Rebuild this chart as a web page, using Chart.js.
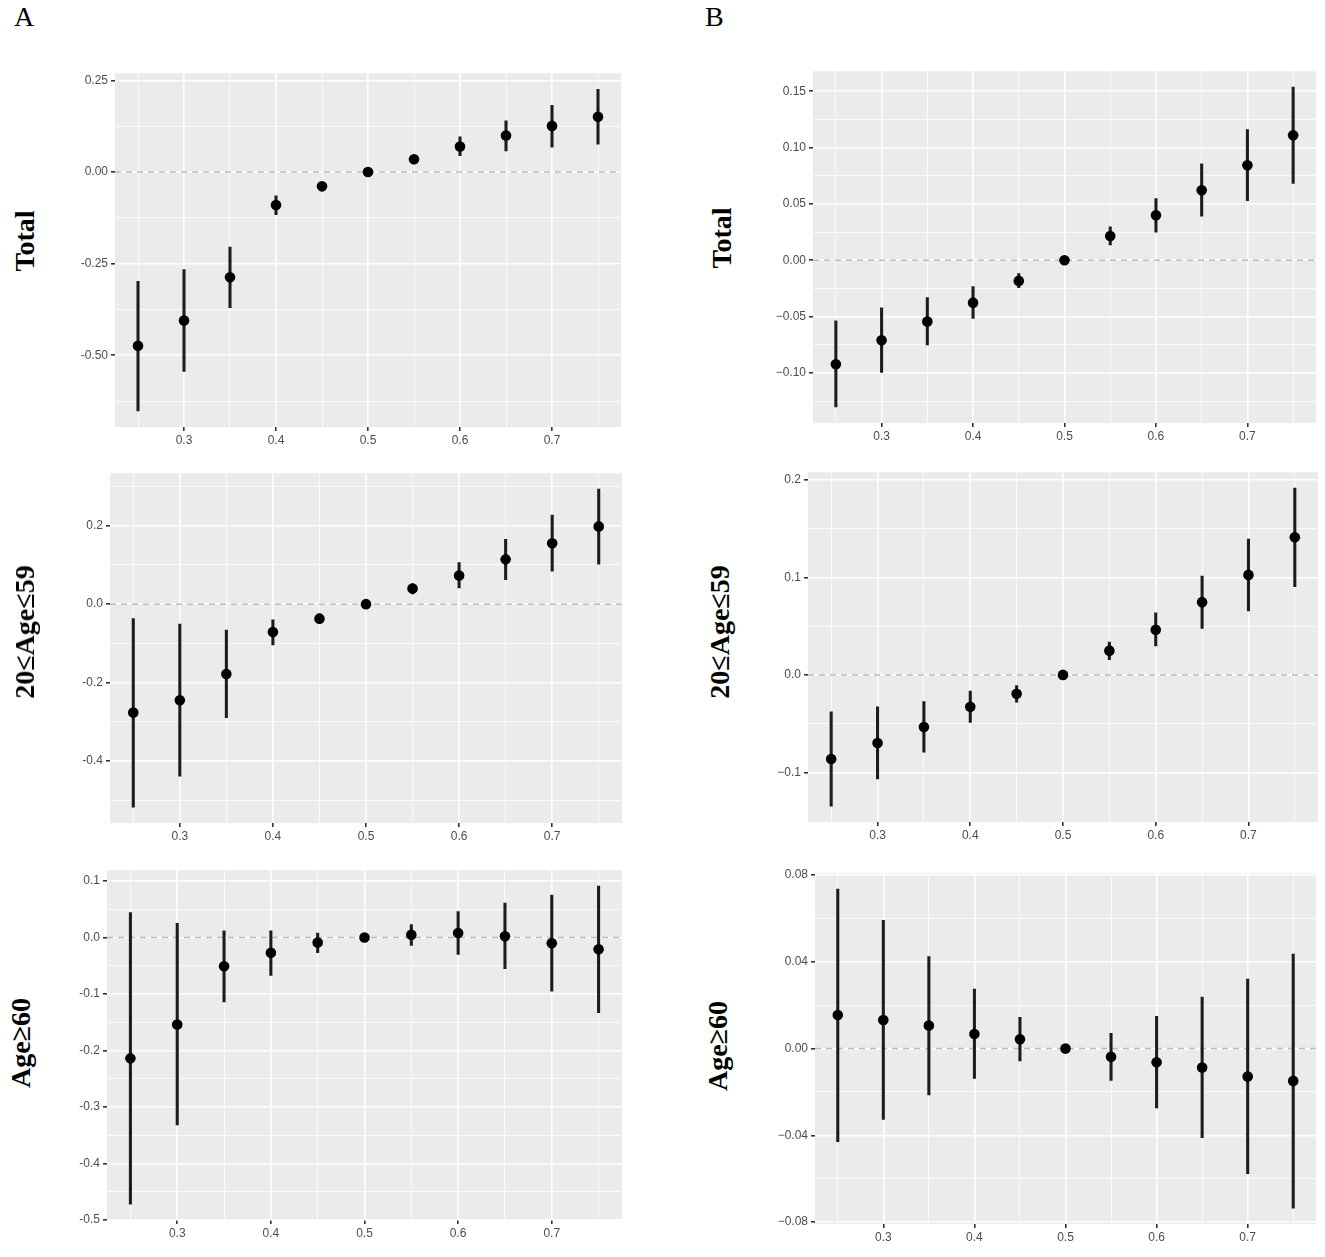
<!DOCTYPE html>
<html>
<head>
<meta charset="utf-8">
<script src="https://cdn.jsdelivr.net/npm/chart.js@4.4.1/dist/chart.umd.min.js"></script>
<style>
  html, body { margin: 0; padding: 0; background: #fff; }
  #page { position: relative; width: 1325px; height: 1257px; overflow: hidden; }
  #page canvas { position: absolute; }
  .tag { position: absolute; font: 28px "Liberation Serif", serif; line-height: 1; color: #000; }
  .ytitle { position: absolute; font: bold 28px "Liberation Serif", serif; color: #000;
            white-space: nowrap; transform: translate(-50%, -50%) rotate(-90deg); }
</style>
</head>
<body>
<div id="page"></div>
<script>
// x positions (quantile) shared by every panel
const xValues = [0.25, 0.30, 0.35, 0.40, 0.45, 0.50, 0.55, 0.60, 0.65, 0.70, 0.75];
const xMajor = [0.3, 0.4, 0.5, 0.6, 0.7];
const xMinor = [0.25, 0.35, 0.45, 0.55, 0.65, 0.75];
const xLabels = ['0.3', '0.4', '0.5', '0.6', '0.7'];
const xLimits = [0.225, 0.775];

// A — Total
const aTotalEst = [-0.474, -0.405, -0.287, -0.090, -0.039, 0, 0.035, 0.070, 0.100, 0.126, 0.151];
const aTotalLo  = [-0.652, -0.544, -0.370, -0.116, -0.045, 0, 0.030, 0.045, 0.058, 0.068, 0.076];
const aTotalHi  = [-0.298, -0.266, -0.205, -0.065, -0.033, 0, 0.040, 0.096, 0.140, 0.182, 0.226];
const aTotalYMajor = [-0.5, -0.25, 0, 0.25];
const aTotalYMinor = [-0.625, -0.375, -0.125, 0.125];
const aTotalYLabels = ['-0.50', '-0.25', '0.00', '0.25'];

// A — 20≤Age≤59
const aMidEst = [-0.276, -0.245, -0.178, -0.071, -0.037, 0, 0.040, 0.073, 0.114, 0.155, 0.198];
const aMidLo  = [-0.517, -0.438, -0.289, -0.104, -0.048, 0, 0.026, 0.041, 0.062, 0.084, 0.102];
const aMidHi  = [-0.037, -0.051, -0.066, -0.040, -0.025, 0, 0.052, 0.106, 0.165, 0.227, 0.293];
const aMidYMajor = [-0.4, -0.2, 0, 0.2];
const aMidYMinor = [-0.5, -0.3, -0.1, 0.1, 0.3];
const aMidYLabels = ['-0.4', '-0.2', '0.0', '0.2'];

// A — Age≥60
const aOldEst = [-0.214, -0.154, -0.051, -0.027, -0.009, 0, 0.005, 0.008, 0.002, -0.010, -0.021];
const aOldLo  = [-0.472, -0.332, -0.114, -0.067, -0.027, 0, -0.014, -0.030, -0.055, -0.095, -0.133];
const aOldHi  = [0.044, 0.025, 0.012, 0.012, 0.008, 0, 0.023, 0.046, 0.061, 0.075, 0.091];
const aOldYMajor = [-0.5, -0.4, -0.3, -0.2, -0.1, 0, 0.1];
const aOldYMinor = [-0.45, -0.35, -0.25, -0.15, -0.05, 0.05];
const aOldYLabels = ['-0.5', '-0.4', '-0.3', '-0.2', '-0.1', '0.0', '0.1'];

// B — Total
const bTotalEst = [-0.0923, -0.0710, -0.0544, -0.0376, -0.0183, 0, 0.0216, 0.0399, 0.0621, 0.0843, 0.1109];
const bTotalLo  = [-0.1302, -0.0994, -0.0751, -0.0515, -0.0243, 0, 0.0136, 0.0249, 0.0391, 0.0530, 0.0683];
const bTotalHi  = [-0.0538, -0.0423, -0.0331, -0.0234, -0.0118, 0, 0.0296, 0.0547, 0.0855, 0.1160, 0.1536];
const bTotalYMajor = [-0.10, -0.05, 0, 0.05, 0.10, 0.15];
const bTotalYMinor = [-0.125, -0.075, -0.025, 0.025, 0.075, 0.125];
const bTotalYLabels = ['\u22120.10', '\u22120.05', '0.00', '0.05', '0.10', '0.15'];

// B — 20≤Age≤59
const bMidEst = [-0.0863, -0.0699, -0.0535, -0.0327, -0.0194, 0, 0.0249, 0.0464, 0.0747, 0.1027, 0.1413];
const bMidLo  = [-0.1347, -0.1067, -0.0794, -0.0488, -0.0280, 0, 0.0157, 0.0297, 0.0477, 0.0658, 0.0907];
const bMidHi  = [-0.0378, -0.0327, -0.0273, -0.0167, -0.0109, 0, 0.0338, 0.0638, 0.1014, 0.1395, 0.1918];
const bMidYMajor = [-0.1, 0, 0.1, 0.2];
const bMidYMinor = [-0.05, 0.05, 0.15];
const bMidYLabels = ['\u22120.1', '0.0', '0.1', '0.2'];

// B — Age≥60
const bOldEst = [0.0155, 0.0132, 0.0106, 0.0067, 0.0043, 0, -0.0038, -0.0063, -0.0087, -0.0129, -0.0149];
const bOldLo  = [-0.0429, -0.0326, -0.0213, -0.0138, -0.0057, 0, -0.0147, -0.0274, -0.0410, -0.0577, -0.0735];
const bOldHi  = [0.0735, 0.0591, 0.0424, 0.0274, 0.0144, 0, 0.0070, 0.0149, 0.0237, 0.0320, 0.0436];
const bOldYMajor = [-0.08, -0.04, 0, 0.04, 0.08];
const bOldYMinor = [-0.06, -0.02, 0.02, 0.06];
const bOldYLabels = ['\u22120.08', '\u22120.04', '0.00', '0.04', '0.08'];

// layout: plot box [left, top, right, bottom] and axis-title centre, in page pixels
const panels = [
  { est: aTotalEst, lo: aTotalLo, hi: aTotalHi, yMajor: aTotalYMajor, yMinor: aTotalYMinor, yLabels: aTotalYLabels,
    title: 'Total', plot: [115, 73, 621, 427], titleAt: [25, 241] },
  { est: aMidEst, lo: aMidLo, hi: aMidHi, yMajor: aMidYMajor, yMinor: aMidYMinor, yLabels: aMidYLabels,
    title: '20\u2264Age\u226459', plot: [110, 473, 622, 823], titleAt: [25, 632] },
  { est: aOldEst, lo: aOldLo, hi: aOldHi, yMajor: aOldYMajor, yMinor: aOldYMinor, yLabels: aOldYLabels,
    title: 'Age\u226560', plot: [107, 870, 622, 1220], titleAt: [21, 1043] },
  { est: bTotalEst, lo: bTotalLo, hi: bTotalHi, yMajor: bTotalYMajor, yMinor: bTotalYMinor, yLabels: bTotalYLabels,
    title: 'Total', plot: [813, 71, 1316, 423], titleAt: [722, 238] },
  { est: bMidEst, lo: bMidLo, hi: bMidHi, yMajor: bMidYMajor, yMinor: bMidYMinor, yLabels: bMidYLabels,
    title: '20\u2264Age\u226459', plot: [808, 472, 1318, 822], titleAt: [720, 632] },
  { est: bOldEst, lo: bOldLo, hi: bOldHi, yMajor: bOldYMajor, yMinor: bOldYMinor, yLabels: bOldYLabels,
    title: 'Age\u226560', plot: [815, 873, 1316, 1224], titleAt: [718, 1046] },
];

const page = document.getElementById('page');
const near = (a, b) => Math.abs(a - b) < 1e-9;
const isMajor = (v, majors) => majors.some(m => near(m, v));
const labelFor = (v, majors, labels) => {
  const i = majors.findIndex(m => near(m, v));
  return i >= 0 ? labels[i] : '';
};

// grey ggplot-style panel background
const panelBg = {
  id: 'panelBg',
  beforeDraw(chart) {
    const { ctx, chartArea: a } = chart;
    ctx.save();
    ctx.fillStyle = '#ebebeb';
    ctx.fillRect(a.left, a.top, a.right - a.left, a.bottom - a.top);
    ctx.restore();
  },
};

function addText(cls, text, css) {
  const d = document.createElement('div');
  d.className = cls;
  d.textContent = text;
  Object.assign(d.style, css);
  page.appendChild(d);
}

function makePanel(p) {
  const [L, T, R, B] = p.plot;
  const padL = 70, padT = 10, padR = 6, padB = 32;
  const w = R - L + padL + padR, h = B - T + padT + padB;
  const canvas = document.createElement('canvas');
  canvas.width = w; canvas.height = h;
  canvas.style.left = (L - padL) + 'px';
  canvas.style.top = (T - padT) + 'px';
  canvas.style.width = w + 'px';
  canvas.style.height = h + 'px';
  page.appendChild(canvas);

  // ggplot default expansion: 5% of the data range
  const yLo = Math.min(...p.lo), yHi = Math.max(...p.hi);
  const ex = (yHi - yLo) * 0.05;

  const tickFont = { family: 'Liberation Sans', size: 12 };
  const yTicks = [...p.yMinor, ...p.yMajor].sort((a, b) => a - b);
  const xTicks = [...xMinor, ...xMajor].sort((a, b) => a - b);

  new Chart(canvas, {
    type: 'scatter',
    data: {
      datasets: [
        {
          type: 'scatter',
          data: xValues.map((x, i) => ({ x, y: p.est[i] })),
          pointRadius: 5.3, pointHoverRadius: 5.3,
          pointBackgroundColor: '#000', pointBorderWidth: 0,
          order: 0,
        },
        {
          type: 'bar',
          data: xValues.map((x, i) => ({ x, y: [p.lo[i], p.hi[i]] })),
          backgroundColor: '#1c1c1c', borderWidth: 0,
          barThickness: 2.4, grouped: false,
          order: 1,
        },
        {
          type: 'line',
          data: [{ x: xLimits[0], y: 0 }, { x: xLimits[1], y: 0 }],
          borderColor: '#bababa', borderWidth: 1.5, borderDash: [6, 5],
          pointRadius: 0, fill: false,
          order: 2,
        },
      ],
    },
    options: {
      responsive: false,
      animation: false,
      events: [],
      layout: { padding: { left: 0, top: padT, right: padR, bottom: 0 } },
      plugins: { legend: { display: false }, tooltip: { enabled: false } },
      scales: {
        x: {
          type: 'linear', min: xLimits[0], max: xLimits[1], offset: false,
          afterBuildTicks: s => { s.ticks = xTicks.map(v => ({ value: v })); },
          afterFit: s => { s.height = padB; },
          ticks: {
            autoSkip: false, maxRotation: 0, padding: 2, color: '#4d4d4d', font: tickFont,
            callback: v => labelFor(v, xMajor, xLabels),
          },
          grid: {
            offset: false, color: '#ffffff', tickLength: 4,
            lineWidth: c => isMajor(c.tick.value, xMajor) ? 1.6 : 0.8,
            tickColor: c => isMajor(c.tick.value, xMajor) ? '#333333' : 'rgba(0,0,0,0)',
          },
          border: { display: false },
        },
        y: {
          type: 'linear', min: yLo - ex, max: yHi + ex, beginAtZero: false,
          afterBuildTicks: s => { s.ticks = yTicks.map(v => ({ value: v })); },
          afterFit: s => { s.width = padL; },
          ticks: {
            autoSkip: false, padding: 3, color: '#4d4d4d', font: tickFont,
            callback: v => labelFor(v, p.yMajor, p.yLabels),
          },
          grid: {
            color: '#ffffff', tickLength: 4,
            lineWidth: c => isMajor(c.tick.value, p.yMajor) ? 1.6 : 0.8,
            tickColor: c => isMajor(c.tick.value, p.yMajor) ? '#333333' : 'rgba(0,0,0,0)',
          },
          border: { display: false },
        },
      },
    },
    plugins: [panelBg],
  });

  addText('ytitle', p.title, { left: p.titleAt[0] + 'px', top: p.titleAt[1] + 'px' });
}

addText('tag', 'A', { left: '14px', top: '3px' });
addText('tag', 'B', { left: '705px', top: '3px' });
panels.forEach(makePanel);
</script>
</body>
</html>
